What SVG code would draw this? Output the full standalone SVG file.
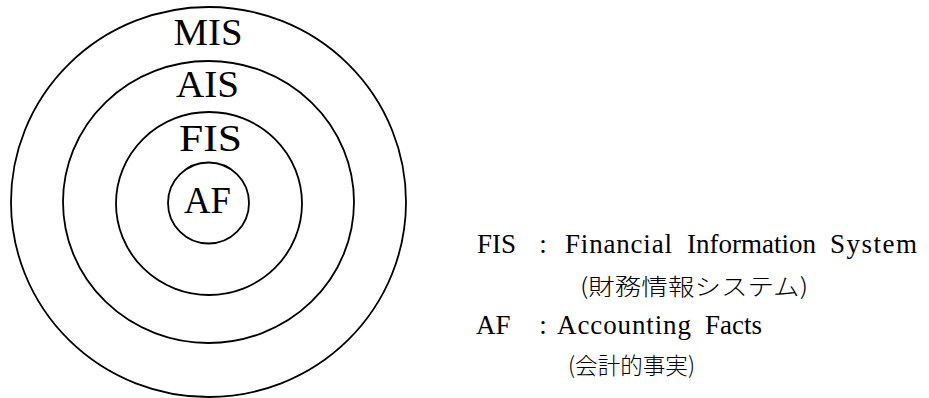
<svg xmlns="http://www.w3.org/2000/svg" width="929" height="398" viewBox="0 0 929 398">
<style>
.ring{fill:none;stroke:#000;stroke-width:1.8}
.lbl{font-family:"Liberation Serif",serif;fill:#000;text-anchor:middle;font-size:37px}
.leg{font-family:"Liberation Serif",serif;fill:#000;font-size:27px}
.col{font-family:"Liberation Serif",serif;fill:#000;font-size:27px;text-anchor:middle}
.jp{font-family:"Noto Sans CJK JP",sans-serif;fill:#000;font-size:23px;font-weight:300}
</style>
<rect width="929" height="398" fill="#fff"/>
<g id="MIS">
<ellipse class="ring" cx="208.5" cy="202" rx="197.5" ry="195"/>
<text class="lbl" x="208" y="45" textLength="69" lengthAdjust="spacingAndGlyphs">MIS</text>
</g>
<g id="AIS">
<ellipse class="ring" cx="208.5" cy="202" rx="145.5" ry="141"/>
<text class="lbl" x="207.5" y="97" textLength="63" lengthAdjust="spacingAndGlyphs">AIS</text>
</g>
<g id="FIS">
<ellipse class="ring" cx="209" cy="203.5" rx="93" ry="91.5"/>
<text class="lbl" x="210.5" y="151" textLength="63" lengthAdjust="spacingAndGlyphs">FIS</text>
</g>
<g id="AF">
<circle class="ring" cx="208.5" cy="203" r="40.5"/>
<text class="lbl" x="207.5" y="213" textLength="47" lengthAdjust="spacingAndGlyphs">AF</text>
</g>
<g id="legend">
<text class="leg" x="477" y="253">FIS</text>
<text class="col" x="543" y="253">:</text>
<text class="leg" x="565" y="253" textLength="107" lengthAdjust="spacing">Financial</text>
<text class="leg" x="687" y="253">Information</text>
<text class="leg" x="830" y="253" textLength="87" lengthAdjust="spacing">System</text>
<text class="jp" x="580" y="295" textLength="228" lengthAdjust="spacingAndGlyphs">(財務情報システム)</text>
<text class="leg" x="476" y="334">AF</text>
<text class="col" x="543" y="334">:</text>
<text class="leg" x="557" y="334" textLength="134" lengthAdjust="spacing">Accounting</text>
<text class="leg" x="705" y="334">Facts</text>
<text class="jp" x="568" y="374" textLength="127" lengthAdjust="spacingAndGlyphs">(会計的事実)</text>
</g>
<g id="connectors"/>
</svg>
